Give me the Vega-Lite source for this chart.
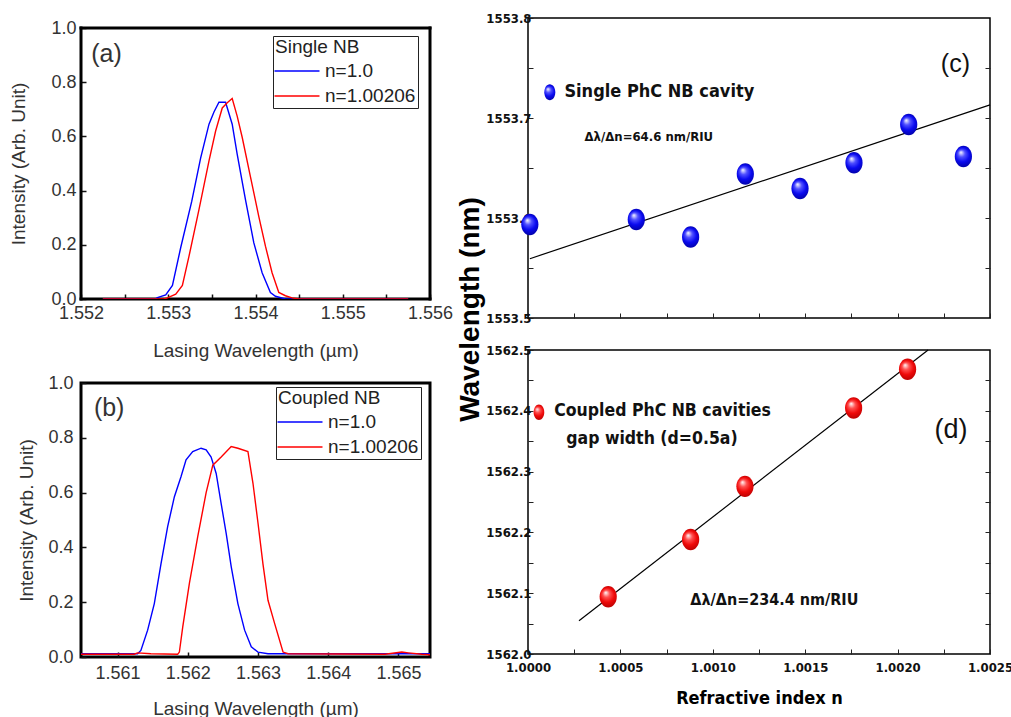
{
  "$schema": "https://vega.github.io/schema/vega-lite/v6.json",
  "padding": {"left": 9, "top": 11, "right": 1, "bottom": 0},
  "background": "white",
  "config": {
    "font": "Liberation Sans",
    "axis": {"grid": false, "domain": false},
    "legend": {"fillColor": "white"}
  },
  "spacing": 2,
  "resolve": {"scale": {"color": "independent"}, "legend": {"color": "independent"}},
  "hconcat": [
    {
      "bounds": "flush",
      "spacing": 84,
      "resolve": {"scale": {"color": "independent"}, "legend": {"color": "independent"}},
      "vconcat": [
        {
          "width": 349,
          "height": 281,
          "view": {"stroke": null},
          "layer": [
            {
              "data": {"values": [
                {"xa": 1.552, "xb": 1.556, "ya": 0, "yb": 0},
                {"xa": 1.552, "xb": 1.556, "ya": 1, "yb": 1},
                {"xa": 1.552, "xb": 1.552, "ya": 0, "yb": 1},
                {"xa": 1.556, "xb": 1.556, "ya": 0, "yb": 1}
              ]},
              "mark": {"type": "rule", "color": "black", "strokeWidth": 3, "strokeCap": "square", "opacity": 1},
              "encoding": {
                "x": {"field": "xa", "type": "quantitative",
                  "scale": {"domain": [1.552, 1.556], "nice": false, "zero": false},
                  "axis": {"values": [1.552, 1.5525, 1.553, 1.5535, 1.554, 1.5545, 1.555, 1.5555, 1.556],
                    "labelExpr": "round(datum.value*2000) % 2 == 0 ? format(datum.value, '.3f') : ''",
                    "title": "Lasing Wavelength (µm)", "labelFontSize": 18, "titleFontSize": 19, "titleFontWeight": "normal",
                    "labelColor": "#333", "titleColor": "#333", "tickColor": "#111", "tickSize": -5, "tickWidth": 1.5,
                    "labelPadding": 10, "titlePadding": 19, "labelFlush": false}},
                "x2": {"field": "xb"},
                "y": {"field": "ya", "type": "quantitative",
                  "scale": {"domain": [0, 1], "nice": false, "range": [281, 10]},
                  "axis": {"values": [0, 0.1, 0.2, 0.3, 0.4, 0.5, 0.6, 0.7, 0.8, 0.9, 1.0],
                    "labelExpr": "round(datum.value*10) % 2 == 0 ? format(datum.value, '.1f') : ''",
                    "title": "Intensity (Arb. Unit)", "labelFontSize": 18, "titleFontSize": 19, "titleFontWeight": "normal",
                    "labelColor": "#333", "titleColor": "#333", "tickColor": "#111", "tickSize": -5, "tickWidth": 1.5,
                    "labelPadding": 10, "titlePadding": 22, "labelFlush": false}},
                "y2": {"field": "yb"}
              }
            },
            {
              "data": {"values": [
                {"wl": 1.55225, "I": 0, "s": "n=1.0"},
                {"wl": 1.55285, "I": 0, "s": "n=1.0"},
                {"wl": 1.552876, "I": 0.005, "s": "n=1.0"},
                {"wl": 1.552971, "I": 0.015, "s": "n=1.0"},
                {"wl": 1.553048, "I": 0.05, "s": "n=1.0"},
                {"wl": 1.553143, "I": 0.19, "s": "n=1.0"},
                {"wl": 1.553269, "I": 0.36, "s": "n=1.0"},
                {"wl": 1.553371, "I": 0.52, "s": "n=1.0"},
                {"wl": 1.553467, "I": 0.645, "s": "n=1.0"},
                {"wl": 1.553524, "I": 0.69, "s": "n=1.0"},
                {"wl": 1.553581, "I": 0.726, "s": "n=1.0"},
                {"wl": 1.553657, "I": 0.726, "s": "n=1.0"},
                {"wl": 1.553733, "I": 0.645, "s": "n=1.0"},
                {"wl": 1.55379, "I": 0.535, "s": "n=1.0"},
                {"wl": 1.553886, "I": 0.365, "s": "n=1.0"},
                {"wl": 1.553981, "I": 0.207, "s": "n=1.0"},
                {"wl": 1.554076, "I": 0.097, "s": "n=1.0"},
                {"wl": 1.554171, "I": 0.024, "s": "n=1.0"},
                {"wl": 1.554229, "I": 0.01, "s": "n=1.0"},
                {"wl": 1.554343, "I": 0, "s": "n=1.0"},
                {"wl": 1.55575, "I": 0, "s": "n=1.0"},
                {"wl": 1.55225, "I": 0, "s": "n=1.00206"},
                {"wl": 1.55295, "I": 0, "s": "n=1.00206"},
                {"wl": 1.55299, "I": 0.004, "s": "n=1.00206"},
                {"wl": 1.553086, "I": 0.018, "s": "n=1.00206"},
                {"wl": 1.553162, "I": 0.05, "s": "n=1.00206"},
                {"wl": 1.553238, "I": 0.158, "s": "n=1.00206"},
                {"wl": 1.553352, "I": 0.33, "s": "n=1.00206"},
                {"wl": 1.553467, "I": 0.51, "s": "n=1.00206"},
                {"wl": 1.553543, "I": 0.62, "s": "n=1.00206"},
                {"wl": 1.553619, "I": 0.705, "s": "n=1.00206"},
                {"wl": 1.553676, "I": 0.724, "s": "n=1.00206"},
                {"wl": 1.553733, "I": 0.74, "s": "n=1.00206"},
                {"wl": 1.55379, "I": 0.675, "s": "n=1.00206"},
                {"wl": 1.553848, "I": 0.596, "s": "n=1.00206"},
                {"wl": 1.553943, "I": 0.45, "s": "n=1.00206"},
                {"wl": 1.554038, "I": 0.304, "s": "n=1.00206"},
                {"wl": 1.554114, "I": 0.195, "s": "n=1.00206"},
                {"wl": 1.55419, "I": 0.097, "s": "n=1.00206"},
                {"wl": 1.554267, "I": 0.024, "s": "n=1.00206"},
                {"wl": 1.554343, "I": 0.012, "s": "n=1.00206"},
                {"wl": 1.554419, "I": 0.004, "s": "n=1.00206"},
                {"wl": 1.554495, "I": 0, "s": "n=1.00206"},
                {"wl": 1.55575, "I": 0, "s": "n=1.00206"}
              ]},
              "mark": {"type": "line", "strokeWidth": 1.4, "clip": true},
              "encoding": {
                "x": {"field": "wl", "type": "quantitative"},
                "y": {"field": "I", "type": "quantitative"},
                "color": {"field": "s", "type": "nominal",
                  "scale": {"domain": ["n=1.0", "n=1.00206"], "range": ["#0000ff", "#ff0000"]},
                  "legend": {"title": "Single NB", "orient": "none", "legendX": 192, "legendY": 18,
                    "symbolType": "M-2,0H2", "symbolSize": 506, "symbolStrokeWidth": 1.5, "symbolFillColor": "transparent",
                    "labelFontSize": 19, "titleFontSize": 19,
                    "titleFontWeight": "normal", "titleColor": "#222", "labelColor": "#222", "strokeColor": "#222",
                    "padding": 2, "labelOffset": 16, "rowPadding": 3, "titlePadding": 2, "symbolOffset": 10}}
              }
            },
            {
              "data": {"values": [{"wl": 1.552293, "I": 0.904, "t": "(a)"}]},
              "mark": {"type": "text", "fontSize": 25, "color": "#333", "align": "center", "baseline": "middle"},
              "encoding": {
                "x": {"field": "wl", "type": "quantitative"},
                "y": {"field": "I", "type": "quantitative"},
                "text": {"field": "t"}
              }
            }
          ]
        },
        {
          "width": 349,
          "height": 274,
          "view": {"stroke": "black", "strokeWidth": 3},
          "layer": [
            {
              "data": {"values": [
                {"wl": 1.56048, "I": 0.012, "s": "n=1.0"},
                {"wl": 1.561286, "I": 0.012, "s": "n=1.0"},
                {"wl": 1.561333, "I": 0.024, "s": "n=1.0"},
                {"wl": 1.561429, "I": 0.098, "s": "n=1.0"},
                {"wl": 1.561524, "I": 0.195, "s": "n=1.0"},
                {"wl": 1.561619, "I": 0.34, "s": "n=1.0"},
                {"wl": 1.561714, "I": 0.476, "s": "n=1.0"},
                {"wl": 1.56181, "I": 0.585, "s": "n=1.0"},
                {"wl": 1.561905, "I": 0.659, "s": "n=1.0"},
                {"wl": 1.561976, "I": 0.72, "s": "n=1.0"},
                {"wl": 1.562071, "I": 0.75, "s": "n=1.0"},
                {"wl": 1.56219, "I": 0.762, "s": "n=1.0"},
                {"wl": 1.562262, "I": 0.756, "s": "n=1.0"},
                {"wl": 1.562333, "I": 0.73, "s": "n=1.0"},
                {"wl": 1.562405, "I": 0.67, "s": "n=1.0"},
                {"wl": 1.562476, "I": 0.56, "s": "n=1.0"},
                {"wl": 1.562548, "I": 0.45, "s": "n=1.0"},
                {"wl": 1.562619, "I": 0.33, "s": "n=1.0"},
                {"wl": 1.562714, "I": 0.195, "s": "n=1.0"},
                {"wl": 1.56281, "I": 0.098, "s": "n=1.0"},
                {"wl": 1.562905, "I": 0.037, "s": "n=1.0"},
                {"wl": 1.563, "I": 0.018, "s": "n=1.0"},
                {"wl": 1.563143, "I": 0.012, "s": "n=1.0"},
                {"wl": 1.564095, "I": 0.012, "s": "n=1.0"},
                {"wl": 1.565, "I": 0.012, "s": "n=1.0"},
                {"wl": 1.56545, "I": 0.012, "s": "n=1.0"},
                {"wl": 1.56048, "I": 0.01, "s": "n=1.00206"},
                {"wl": 1.561238, "I": 0.01, "s": "n=1.00206"},
                {"wl": 1.561286, "I": 0.015, "s": "n=1.00206"},
                {"wl": 1.561476, "I": 0.012, "s": "n=1.00206"},
                {"wl": 1.561857, "I": 0.01, "s": "n=1.00206"},
                {"wl": 1.561881, "I": 0.018, "s": "n=1.00206"},
                {"wl": 1.561929, "I": 0.11, "s": "n=1.00206"},
                {"wl": 1.562024, "I": 0.27, "s": "n=1.00206"},
                {"wl": 1.562143, "I": 0.44, "s": "n=1.00206"},
                {"wl": 1.562262, "I": 0.6, "s": "n=1.00206"},
                {"wl": 1.562357, "I": 0.7, "s": "n=1.00206"},
                {"wl": 1.562476, "I": 0.73, "s": "n=1.00206"},
                {"wl": 1.562619, "I": 0.768, "s": "n=1.00206"},
                {"wl": 1.562714, "I": 0.762, "s": "n=1.00206"},
                {"wl": 1.562857, "I": 0.75, "s": "n=1.00206"},
                {"wl": 1.562929, "I": 0.634, "s": "n=1.00206"},
                {"wl": 1.563, "I": 0.49, "s": "n=1.00206"},
                {"wl": 1.563071, "I": 0.34, "s": "n=1.00206"},
                {"wl": 1.563143, "I": 0.207, "s": "n=1.00206"},
                {"wl": 1.563238, "I": 0.122, "s": "n=1.00206"},
                {"wl": 1.563357, "I": 0.018, "s": "n=1.00206"},
                {"wl": 1.563429, "I": 0.012, "s": "n=1.00206"},
                {"wl": 1.56481, "I": 0.01, "s": "n=1.00206"},
                {"wl": 1.565048, "I": 0.018, "s": "n=1.00206"},
                {"wl": 1.565143, "I": 0.015, "s": "n=1.00206"},
                {"wl": 1.565333, "I": 0.01, "s": "n=1.00206"},
                {"wl": 1.56545, "I": 0.008, "s": "n=1.00206"}
              ]},
              "mark": {"type": "line", "strokeWidth": 1.4, "clip": true},
              "encoding": {
                "x": {"field": "wl", "type": "quantitative",
                  "scale": {"domain": [1.56048, 1.56545], "nice": false, "zero": false},
                  "axis": {"values": [1.561, 1.562, 1.563, 1.564, 1.565], "format": ".3f",
                    "title": "Lasing Wavelength (µm)", "labelFontSize": 18, "titleFontSize": 19, "titleFontWeight": "normal",
                    "labelColor": "#333", "titleColor": "#333", "tickColor": "#111", "tickSize": -5, "tickWidth": 1.5,
                    "labelPadding": 12, "titlePadding": 17, "labelFlush": false}},
                "y": {"field": "I", "type": "quantitative",
                  "scale": {"domain": [0, 1], "nice": false},
                  "axis": {"values": [0, 0.1, 0.2, 0.3, 0.4, 0.5, 0.6, 0.7, 0.8, 0.9, 1.0],
                    "labelExpr": "round(datum.value*10) % 2 == 0 ? format(datum.value, '.1f') : ''",
                    "title": "Intensity (Arb. Unit)", "labelFontSize": 18, "titleFontSize": 19, "titleFontWeight": "normal",
                    "labelColor": "#333", "titleColor": "#333", "tickColor": "#111", "tickSize": -5, "tickWidth": 1.5,
                    "labelPadding": 13, "titlePadding": 11, "labelFlush": false}},
                "color": {"field": "s", "type": "nominal",
                  "scale": {"domain": ["n=1.0", "n=1.00206"], "range": ["#0000ff", "#ff0000"]},
                  "legend": {"title": "Coupled NB", "orient": "none", "legendX": 195, "legendY": 4,
                    "symbolType": "M-2,0H2", "symbolSize": 506, "symbolStrokeWidth": 1.5, "symbolFillColor": "transparent",
                    "labelFontSize": 19, "titleFontSize": 19,
                    "titleFontWeight": "normal", "titleColor": "#222", "labelColor": "#222", "strokeColor": "#222",
                    "padding": 2, "labelOffset": 16, "rowPadding": 3, "titlePadding": 2, "symbolOffset": 10}}
              }
            },
            {
              "data": {"values": [{"wl": 1.560881, "I": 0.9085, "t": "(b)"}]},
              "mark": {"type": "text", "fontSize": 25, "color": "#333", "align": "center", "baseline": "middle"},
              "encoding": {
                "x": {"field": "wl", "type": "quantitative"},
                "y": {"field": "I", "type": "quantitative"},
                "text": {"field": "t"}
              }
            }
          ]
        }
      ]
    },
    {
      "bounds": "flush",
      "spacing": 32,
      "vconcat": [
        {
          "width": 462,
          "height": 300,
          "view": {"stroke": "black", "strokeWidth": 1.5},
          "resolve": {"axis": {"y": "independent"}},
          "layer": [
            {
              "data": {"values": [{"n": 1.00001, "w": 1553.5593}, {"n": 1.0025, "w": 1553.7131}]},
              "mark": {"type": "line", "color": "black", "strokeWidth": 1.2},
              "encoding": {
                "x": {"field": "n", "type": "quantitative",
                  "scale": {"domain": [1.0, 1.0025], "nice": false, "zero": false},
                  "axis": {"values": [1.0, 1.00025, 1.0005, 1.00075, 1.001, 1.00125, 1.0015, 1.00175, 1.002, 1.00225, 1.0025],
                    "labels": false, "title": null, "tickSize": -5, "tickColor": "#222", "tickWidth": 1}},
                "y": {"field": "w", "type": "quantitative",
                  "scale": {"domain": [1553.5, 1553.8], "nice": false, "zero": false},
                  "axis": {"values": [1553.5, 1553.55, 1553.6, 1553.65, 1553.7, 1553.75, 1553.8],
                    "labelExpr": "round(datum.value*20) % 2 == 0 ? format(datum.value, '.1f') : ''",
                    "labelFont": "Liberation Sans Narrow, DejaVu Sans Condensed, sans-serif", "labelFontWeight": "bold",
                    "labelFontSize": 13, "labelColor": "#111", "labelPadding": 2, "tickSize": -5, "tickColor": "#222",
                    "tickWidth": 1, "labelFlush": false,
                    "title": "Wavelength (nm)", "titleFont": "Liberation Sans", "titleFontSize": 28, "titleFontWeight": "bold",
                    "titleColor": "black", "titleX": -44, "titleY": 291}}
              }
            },
            {
              "data": {"values": [
                {"n": 1.00001, "w": 1553.5936},
                {"n": 1.000586, "w": 1553.5986},
                {"n": 1.00088, "w": 1553.5809},
                {"n": 1.001176, "w": 1553.6439},
                {"n": 1.001472, "w": 1553.6295},
                {"n": 1.001764, "w": 1553.6552},
                {"n": 1.00206, "w": 1553.6935},
                {"n": 1.002356, "w": 1553.6615}
              ]},
              "mark": {"type": "point", "filled": true, "opacity": 1, "size": 462, "strokeWidth": 0,
                "shape": "M0,-1A0.8,1,0,1,1,0,1A0.8,1,0,1,1,0,-1Z",
                "fill": {"gradient": "radial", "x1": 0.38, "y1": 0.3, "r1": 0, "x2": 0.5, "y2": 0.5, "r2": 0.55,
                  "stops": [{"offset": 0, "color": "#ffffff"}, {"offset": 0.3, "color": "#5050ff"}, {"offset": 0.6, "color": "#0a0af0"}, {"offset": 1, "color": "#00009a"}]}},
              "encoding": {
                "x": {"field": "n", "type": "quantitative"},
                "y": {"field": "w", "type": "quantitative",
                  "axis": {"orient": "right", "values": [1553.55, 1553.6, 1553.65, 1553.7, 1553.75],
                    "labels": false, "title": null, "tickSize": -5, "tickColor": "#222", "tickWidth": 1}}
              }
            },
            {
              "data": {"values": [{"n": 1.000118, "w": 1553.7258}]},
              "mark": {"type": "point", "filled": true, "opacity": 1, "size": 256, "strokeWidth": 0,
                "shape": "M0,-1A0.69,1,0,1,1,0,1A0.69,1,0,1,1,0,-1Z",
                "fill": {"gradient": "radial", "x1": 0.38, "y1": 0.3, "r1": 0, "x2": 0.5, "y2": 0.5, "r2": 0.55,
                  "stops": [{"offset": 0, "color": "#ffffff"}, {"offset": 0.3, "color": "#5050ff"}, {"offset": 0.6, "color": "#0a0af0"}, {"offset": 1, "color": "#00009a"}]}},
              "encoding": {
                "x": {"field": "n", "type": "quantitative"},
                "y": {"field": "w", "type": "quantitative", "axis": null}
              }
            },
            {
              "data": {"values": [{"n": 1.000197, "w": 1553.7258, "t": "Single PhC NB cavity"}]},
              "mark": {"type": "text", "align": "left", "baseline": "middle", "fontSize": 18, "fontWeight": "bold",
                "font": "Liberation Sans Narrow, DejaVu Sans Condensed, sans-serif", "color": "#111"},
              "encoding": {
                "x": {"field": "n", "type": "quantitative"},
                "y": {"field": "w", "type": "quantitative", "axis": null},
                "text": {"field": "t"}
              }
            },
            {
              "data": {"values": [{"n": 1.000306, "w": 1553.6808, "t": "Δλ/Δn=64.6 nm/RIU"}]},
              "mark": {"type": "text", "align": "left", "baseline": "middle", "fontSize": 13, "fontWeight": "bold",
                "font": "Liberation Sans Narrow, DejaVu Sans Condensed, sans-serif", "color": "#111"},
              "encoding": {
                "x": {"field": "n", "type": "quantitative"},
                "y": {"field": "w", "type": "quantitative", "axis": null},
                "text": {"field": "t"}
              }
            },
            {
              "data": {"values": [{"n": 1.002313, "w": 1553.754, "t": "(c)"}]},
              "mark": {"type": "text", "align": "center", "baseline": "middle", "fontSize": 25, "color": "#111"},
              "encoding": {
                "x": {"field": "n", "type": "quantitative"},
                "y": {"field": "w", "type": "quantitative", "axis": null},
                "text": {"field": "t"}
              }
            }
          ]
        },
        {
          "width": 462,
          "height": 304,
          "view": {"stroke": "black", "strokeWidth": 1.5},
          "resolve": {"axis": {"y": "independent"}},
          "layer": [
            {
              "data": {"values": [{"n": 1.000276, "w": 1562.0547}, {"n": 1.002165, "w": 1562.5}]},
              "mark": {"type": "line", "color": "black", "strokeWidth": 1.2},
              "encoding": {
                "x": {"field": "n", "type": "quantitative",
                  "scale": {"domain": [1.0, 1.0025], "nice": false, "zero": false},
                  "axis": {"values": [1.0, 1.00025, 1.0005, 1.00075, 1.001, 1.00125, 1.0015, 1.00175, 1.002, 1.00225, 1.0025],
                    "labelExpr": "round(datum.value*4000) % 2 == 0 ? format(datum.value, '.4f') : ''",
                    "labelFont": "Liberation Sans Narrow, DejaVu Sans Condensed, sans-serif", "labelFontWeight": "bold",
                    "labelFontSize": 13, "labelColor": "#111", "labelPadding": 12, "tickSize": -5, "tickColor": "#222",
                    "tickWidth": 1, "labelFlush": false,
                    "title": "Refractive index n", "titleFont": "Liberation Sans Narrow, DejaVu Sans Condensed, sans-serif",
                    "titleFontSize": 18, "titleFontWeight": "bold", "titleColor": "black", "titlePadding": 15}},
                "y": {"field": "w", "type": "quantitative",
                  "scale": {"domain": [1562.0, 1562.5], "nice": false, "zero": false},
                  "axis": {"values": [1562.0, 1562.05, 1562.1, 1562.15, 1562.2, 1562.25, 1562.3, 1562.35, 1562.4, 1562.45, 1562.5],
                    "labelExpr": "round(datum.value*20) % 2 == 0 ? format(datum.value, '.1f') : ''",
                    "labelFont": "Liberation Sans Narrow, DejaVu Sans Condensed, sans-serif", "labelFontWeight": "bold",
                    "labelFontSize": 13, "labelColor": "#111", "labelPadding": 2, "tickSize": -5, "tickColor": "#222",
                    "tickWidth": 1, "labelFlush": false, "title": null}}
              }
            },
            {
              "data": {"values": [
                {"n": 1.000434, "w": 1562.0941},
                {"n": 1.00088, "w": 1562.1882},
                {"n": 1.001174, "w": 1562.2757},
                {"n": 1.001762, "w": 1562.4048},
                {"n": 1.002054, "w": 1562.4683}
              ]},
              "mark": {"type": "point", "filled": true, "opacity": 1, "size": 462, "strokeWidth": 0,
                "shape": "M0,-1A0.8,1,0,1,1,0,1A0.8,1,0,1,1,0,-1Z",
                "fill": {"gradient": "radial", "x1": 0.38, "y1": 0.3, "r1": 0, "x2": 0.5, "y2": 0.5, "r2": 0.55,
                  "stops": [{"offset": 0, "color": "#ffffff"}, {"offset": 0.3, "color": "#ff5050"}, {"offset": 0.6, "color": "#f00a0a"}, {"offset": 1, "color": "#b00000"}]}},
              "encoding": {
                "x": {"field": "n", "type": "quantitative"},
                "y": {"field": "w", "type": "quantitative",
                  "axis": {"orient": "right", "values": [1562.05, 1562.1, 1562.15, 1562.2, 1562.25, 1562.3, 1562.35, 1562.4, 1562.45],
                    "labels": false, "title": null, "tickSize": -5, "tickColor": "#222", "tickWidth": 1}}
              }
            },
            {
              "data": {"values": [{"n": 1.0000592, "w": 1562.3977}]},
              "mark": {"type": "point", "filled": true, "opacity": 1, "size": 240, "strokeWidth": 0,
                "shape": "M0,-1A0.69,1,0,1,1,0,1A0.69,1,0,1,1,0,-1Z",
                "fill": {"gradient": "radial", "x1": 0.38, "y1": 0.3, "r1": 0, "x2": 0.5, "y2": 0.5, "r2": 0.55,
                  "stops": [{"offset": 0, "color": "#ffffff"}, {"offset": 0.3, "color": "#ff5050"}, {"offset": 0.6, "color": "#f00a0a"}, {"offset": 1, "color": "#b00000"}]}},
              "encoding": {
                "x": {"field": "n", "type": "quantitative"},
                "y": {"field": "w", "type": "quantitative", "axis": null}
              }
            },
            {
              "data": {"values": [
                {"n": 1.000142, "w": 1562.4004, "t": "Coupled PhC NB cavities"},
                {"n": 1.000207, "w": 1562.354, "t": "gap width (d=0.5a)"}
              ]},
              "mark": {"type": "text", "align": "left", "baseline": "middle", "fontSize": 17.5, "fontWeight": "bold",
                "font": "Liberation Sans Narrow, DejaVu Sans Condensed, sans-serif", "color": "#111"},
              "encoding": {
                "x": {"field": "n", "type": "quantitative"},
                "y": {"field": "w", "type": "quantitative", "axis": null},
                "text": {"field": "t"}
              }
            },
            {
              "data": {"values": [{"n": 1.000878, "w": 1562.0886, "t": "Δλ/Δn=234.4 nm/RIU"}]},
              "mark": {"type": "text", "align": "left", "baseline": "middle", "fontSize": 16, "fontWeight": "bold",
                "font": "Liberation Sans Narrow, DejaVu Sans Condensed, sans-serif", "color": "#111"},
              "encoding": {
                "x": {"field": "n", "type": "quantitative"},
                "y": {"field": "w", "type": "quantitative", "axis": null},
                "text": {"field": "t"}
              }
            },
            {
              "data": {"values": [{"n": 1.002289, "w": 1562.368, "t": "(d)"}]},
              "mark": {"type": "text", "align": "center", "baseline": "middle", "fontSize": 27, "color": "#111"},
              "encoding": {
                "x": {"field": "n", "type": "quantitative"},
                "y": {"field": "w", "type": "quantitative", "axis": null},
                "text": {"field": "t"}
              }
            }
          ]
        }
      ]
    }
  ]
}
